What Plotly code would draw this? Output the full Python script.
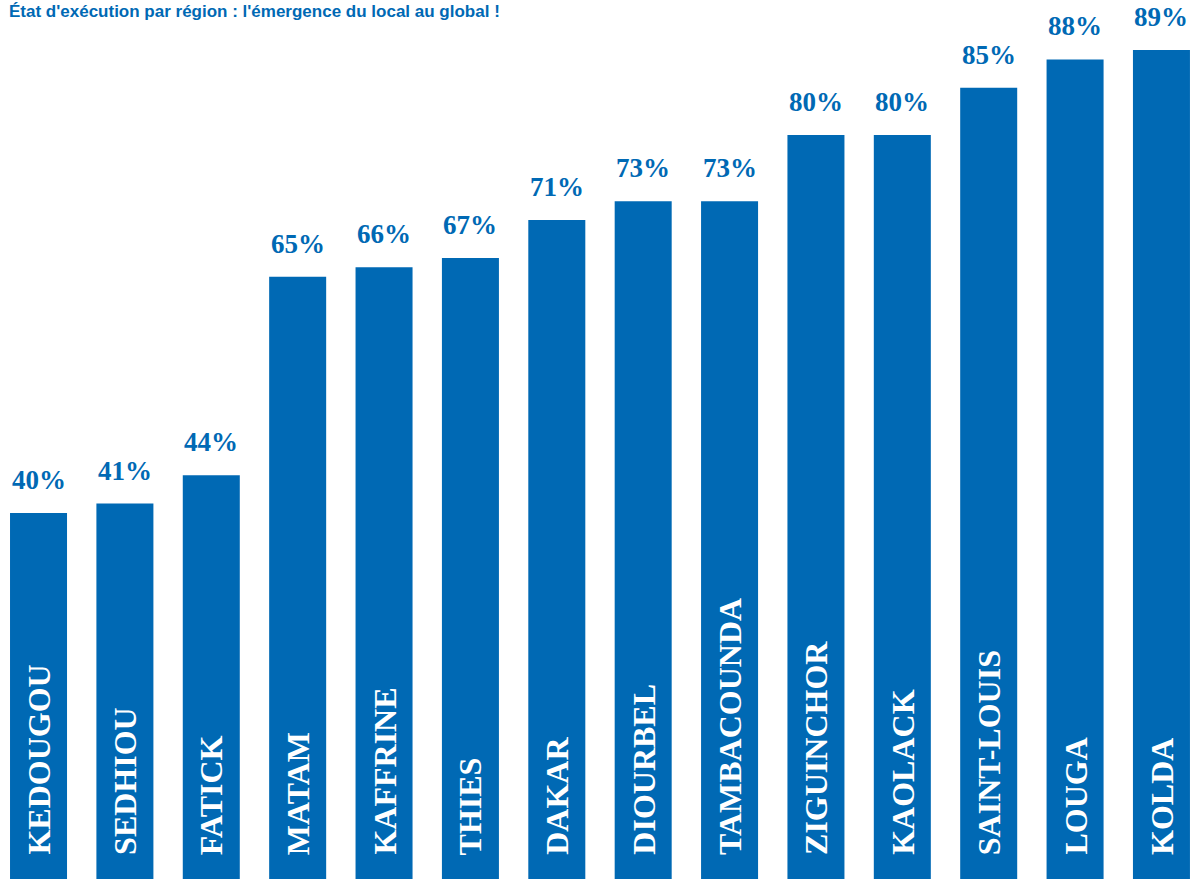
import plotly.graph_objects as go

# Regional execution rates, sorted ascending
regions = ["KEDOUGOU", "SEDHIOU", "FATICK", "MATAM", "KAFFRINE", "THIES", "DAKAR",
           "DIOURBEL", "TAMBACOUNDA", "ZIGUINCHOR", "KAOLACK", "SAINT-LOUIS", "LOUGA", "KOLDA"]
rates = [40, 41, 44, 65, 66, 67, 71, 73, 73, 80, 80, 85, 88, 89]

title_text = "État d'exécution par région : l'émergence du local au global !"

BLUE = "#0069b4"
SERIF = "Liberation Serif, Times New Roman, serif"

fig = go.Figure(
    go.Bar(
        x=regions,
        y=rates,
        marker=dict(color=BLUE, line=dict(width=0)),
        hoverinfo="skip",
    )
)

annotations = []
for name, val in zip(regions, rates):
    # percentage label above each bar
    annotations.append(dict(
        x=name, y=val, xref="x", yref="y",
        text=f"<b>{val}%</b>", showarrow=False,
        yanchor="bottom", yshift=16,
        font=dict(family=SERIF, size=27, color=BLUE),
    ))
    # region name written vertically at the foot of the bar
    annotations.append(dict(
        x=name, y=0, xref="x", yref="paper",
        text=f"<b>{name}</b>", showarrow=False,
        textangle=-90, yanchor="bottom", yshift=22,
        font=dict(family=SERIF, size=32, color="white"),
    ))

# heading along the top edge
annotations.append(dict(
    x=0, y=1, xref="paper", yref="paper",
    xanchor="left", yanchor="bottom", xshift=7, yshift=-23,
    text=f"<b>{title_text}</b>", showarrow=False,
    font=dict(family="Liberation Sans, Arial, sans-serif", size=17, color=BLUE),
))

fig.update_layout(
    width=1191, height=879,
    margin=dict(l=0, r=0, t=0, b=0),
    paper_bgcolor="white", plot_bgcolor="white",
    bargap=0.34,
    showlegend=False,
    annotations=annotations,
    xaxis=dict(type="category", range=[-0.446, 13.342], visible=False, fixedrange=True),
    yaxis=dict(range=[1.27, 94.29], visible=False, fixedrange=True),
)

fig.write_html("out.html", config={"displayModeBar": False})
